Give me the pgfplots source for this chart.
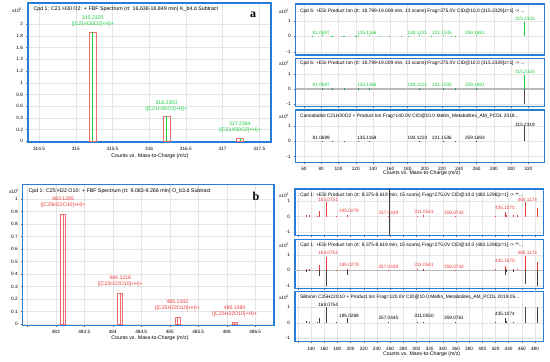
\documentclass[border=0pt]{standalone}
\usepackage{pgfplots}
\pgfplotsset{compat=1.18}
\usepackage{fontspec}
\setmainfont{Liberation Sans}
\newfontfamily\serifb{Liberation Serif}
\definecolor{fblue}{RGB}{40,125,215}
\definecolor{mgreen}{RGB}{25,205,60}
\definecolor{mred}{RGB}{235,60,60}
\definecolor{bred}{RGB}{240,110,110}
\newcommand\sm{\fontsize{4.7}{5.8}\selectfont}
\newcommand\smb{\fontsize{5.2}{6}\selectfont}
\newcommand\smt{\fontsize{5.3}{6}\selectfont}
\newcommand\smr{\fontsize{4.85}{6}\selectfont}
\pgfplotsset{ms/.style={scale only axis, anchor=north west, clip=false,
  axis line style={draw=fblue,line width=1.1pt},
  tick align=outside, tick pos=left, major tick length=1.5pt,
  tick style={black!60,line width=0.3pt},
  grid=major, grid style={black!10,line width=0.3pt},
  ticklabel style={font=\sm},
  /pgf/number format/assume math mode=true,
  yticklabel style={/pgf/number format/fixed},
  xticklabel style={/pgf/number format/fixed}},
  rt/.style={ms, width=248.6pt, xmin=50.4, xmax=338.5, ytick={-1,0,1},
  xtick={60,80,100,120,140,160,180,200,220,240,260,280,300,320}},
  br/.style={ms, width=248.3pt, xmin=115.7, xmax=492.6, ytick={-1,0,1},
  xtick={120,140,160,180,200,220,240,260,280,300,320,340,360,380,400,420,440,460,480}}}
\begin{document}
\begin{tikzpicture}
\path[use as bounding box] (0pt,0pt) rectangle (550pt,362pt);
% ---------------- panel a
\begin{axis}[ms, at={(28pt,359pt)}, width=243pt, height=139pt,
  xmin=314.35, xmax=317.66, ymin=-0.012, ymax=2.36,
  xtick={314.5,315,315.5,316,316.5,317,317.5},
  ytick={0,0.2,0.4,0.6,0.8,1,1.2,1.4,1.6,1.8,2}]
\addplot[ybar, bar width=0.095, bar shift=0pt, draw=bred, fill=none, line width=0.6pt] coordinates {(315.232,1.86) (316.2353,0.43) (317.2364,0.057)};
\addplot[ycomb, mgreen, line width=0.6pt] coordinates {(315.232,1.86) (316.2353,0.43) (317.2364,0.057)};
\node[font=\smb, text=mgreen, align=center] at (axis cs:315.232,2.05) {315.2320\\([C21H30O2]+H)+};
\node[font=\smb, text=mgreen, align=center] at (axis cs:316.2353,0.605) {316.2353\\([C21H30O2]+H)+};
\node[font=\smb, text=mgreen, align=center] at (axis cs:317.2364,0.24) {317.2364\\([C21H30O2]+H)+};
\end{axis}
% ---------------- panel b
\begin{axis}[ms, at={(22.7pt,177.3pt)}, width=251.3pt, height=140.6pt,
  xmin=482.42, xmax=486.83, ymin=-0.01, ymax=1.114,
  xtick={482.5,483,483.5,484,484.5,485,485.5,486,486.5},
  xticklabels={,483,483.5,484,484.5,485,485.5,486,486.5},
  ytick={0,0.1,0.2,0.3,0.4,0.5,0.6,0.7,0.8,0.9,1}]
\addplot[ybar, bar width=0.09, bar shift=0pt, draw=bred, fill=none, line width=0.6pt] coordinates {(483.1285,0.88) (484.1316,0.245) (485.1342,0.053) (486.138,0.01)};
\addplot[ycomb, bred, line width=0.5pt] coordinates {(483.1285,0.88) (484.1316,0.245) (485.1342,0.053) (486.138,0.01)};
\node[font=\smb, text=mred, align=center] at (axis cs:483.1285,0.975) {483.1285\\([C25H22O10]+H)+};
\node[font=\smb, text=mred, align=center] at (axis cs:484.1316,0.34) {484.1316\\([C25H22O10]+H)+};
\node[font=\smb, text=mred, align=center] at (axis cs:485.1342,0.148) {485.1342\\([C25H22O10]+H)+};
\node[font=\smb, text=mred, align=center] at (axis cs:486.138,0.103) {486.1380\\([C25H22O10]+H)+};
\end{axis}
% ---------------- top right 1
\begin{axis}[rt, at={(295.7pt,358pt)}, height=51pt, ymin=-1.21, ymax=2.08, xticklabels={}]
\addplot[ycomb, mgreen, line width=0.5pt] coordinates {(69.07,0.02) (81.07,0.06) (91.05,0.03) (93.07,0.04) (105.07,0.03) (107.09,0.04) (119.09,0.02) (121.1,0.03) (123.12,0.05) (135.12,0.06) (147.12,0.03) (159.12,0.02) (173.1,0.02) (181.1,0.03) (193.12,0.06) (207.14,0.02) (221.15,0.05) (231.14,0.03) (235.17,0.04) (259.17,0.05) (315.23,0.94)};
\node[font=\sm, text=mgreen] at (axis cs:80,0.24) {81.0697};
\node[font=\sm, text=mgreen] at (axis cs:133,0.24) {135.1166};
\node[font=\sm, text=mgreen] at (axis cs:191.5,0.24) {193.1221};
\node[font=\sm, text=mgreen] at (axis cs:220,0.24) {221.1535};
\node[font=\sm, text=mgreen] at (axis cs:258,0.24) {259.1691};
\node[font=\sm, text=mgreen] at (axis cs:316,1.1) {315.2325};
\end{axis}
% ---------------- top right 2
\begin{axis}[rt, at={(295.7pt,303.7pt)}, height=48.4pt, ymin=-1.16, ymax=2.03, xticklabels={}]
\addplot[gray!55, line width=1.6pt] coordinates {(50.4,0) (338.5,0)};
\addplot[ycomb, black!70, line width=0.5pt] coordinates {(81.07,-0.05) (93.07,-0.03) (107.09,-0.03) (123.12,-0.04) (135.12,-0.05) (193.12,-0.05) (221.15,-0.04) (235.17,-0.03) (259.17,-0.04) (315.23,-1.0)};
\addplot[ycomb, mgreen, line width=0.5pt] coordinates {(81.07,0.06) (93.07,0.04) (107.09,0.04) (123.12,0.05) (135.12,0.06) (193.12,0.06) (221.15,0.05) (235.17,0.04) (259.17,0.05) (315.23,0.96)};
\node[font=\sm, text=mgreen] at (axis cs:80,0.26) {81.0697};
\node[font=\sm, text=mgreen] at (axis cs:133,0.26) {135.1166};
\node[font=\sm, text=mgreen] at (axis cs:191.5,0.26) {193.1221};
\node[font=\sm, text=mgreen] at (axis cs:220,0.26) {221.1535};
\node[font=\sm, text=mgreen] at (axis cs:258,0.26) {259.1691};
\node[font=\sm, text=mgreen] at (axis cs:316,1.14) {315.2325};
\end{axis}
% ---------------- top right 3
\begin{axis}[rt, at={(295.7pt,252pt)}, height=52.3pt, ymin=-1.37, ymax=2.05]
\addplot[ycomb, black!75, line width=0.5pt] coordinates {(81.07,0.05) (93.07,0.03) (107.09,0.03) (123.12,0.04) (135.12,0.05) (193.12,0.05) (221.15,0.04) (235.17,0.03) (259.17,0.04) (315.23,1.0)};
\node[font=\sm] at (axis cs:80,0.24) {81.0699};
\node[font=\sm] at (axis cs:133,0.24) {135.1168};
\node[font=\sm] at (axis cs:191.5,0.24) {193.1223};
\node[font=\sm] at (axis cs:220,0.24) {221.1536};
\node[font=\sm] at (axis cs:258,0.24) {259.1693};
\node[font=\sm] at (axis cs:316,1.05) {315.2319};
\end{axis}
% ---------------- bottom right 1
\begin{axis}[br, at={(295pt,173pt)}, height=46.7pt, ymin=-1.22, ymax=1.76, xticklabels={}]
\addplot[black!75, line width=0.5pt] coordinates {(259,-1.22) (259,1.76)};
\addplot[ycomb, mred, line width=0.5pt] coordinates {(133.03,0.1) (137.02,0.08) (149.02,0.05) (153.02,0.35) (163.08,0.9) (179.03,0.04) (195.03,0.12) (257.04,0.03) (301.07,0.06) (311.05,0.07) (359.07,0.03) (419.1,0.06) (435.11,0.3) (437.1,0.12) (447.1,0.1) (453.1,0.08) (465.12,0.95) (483.13,0.55)};
\node[font=\sm, text=mred] at (axis cs:166,1.06) {163.0751};
\node[font=\sm, text=mred] at (axis cs:197.7,0.36) {195.0279};
\node[font=\sm, text=mred] at (axis cs:257.4,0.22) {257.0439};
\node[font=\sm, text=mred] at (axis cs:311.6,0.32) {311.0541};
\node[font=\sm, text=mred] at (axis cs:357,0.22) {359.0742};
\node[font=\sm, text=mred] at (axis cs:434.5,0.57) {435.1070};
\node[font=\sm, text=mred] at (axis cs:468.4,1.06) {465.1174};
\end{axis}
% ---------------- bottom right 2
\begin{axis}[br, at={(295pt,122.7pt)}, height=49pt, ymin=-1.17, ymax=2.03, xticklabels={}]
\addplot[gray!55, line width=1.6pt] coordinates {(115.7,0) (492.6,0)};
\addplot[ycomb, black!75, line width=0.5pt] coordinates {(133.03,-0.08) (137.02,-0.06) (153.02,-0.35) (163.08,-1.0) (179.03,-0.05) (195.03,-0.28) (257.04,-0.03) (311.05,-0.04) (435.11,-0.3) (437.1,-0.12) (447.1,-0.08) (465.12,-0.88) (483.13,-1.0)};
\addplot[ycomb, mred, line width=0.5pt] coordinates {(133.03,0.1) (137.02,0.08) (149.02,0.05) (153.02,0.35) (163.08,0.9) (179.03,0.04) (195.03,0.12) (257.04,0.03) (301.07,0.06) (311.05,0.07) (359.07,0.03) (419.1,0.06) (435.11,0.3) (437.1,0.12) (447.1,0.1) (453.1,0.08) (465.12,0.95) (483.13,0.55)};
\node[font=\sm, text=mred] at (axis cs:166,1.13) {163.0751};
\node[font=\sm, text=mred] at (axis cs:197.7,0.37) {195.0279};
\node[font=\sm, text=mred] at (axis cs:257.4,0.22) {257.0439};
\node[font=\sm, text=mred] at (axis cs:311.6,0.33) {311.0541};
\node[font=\sm, text=mred] at (axis cs:357,0.22) {359.0742};
\node[font=\sm, text=mred] at (axis cs:434.5,0.65) {435.1070};
\node[font=\sm, text=mred] at (axis cs:468.4,1.13) {465.1174};
\end{axis}
% ---------------- bottom right 3
\begin{axis}[br, at={(295pt,70.3pt)}, height=50pt, ymin=-1.22, ymax=2.0,
  xticklabels={,140,160,180,200,220,240,260,280,300,320,340,360,380,400,420,440,460,480}]
\addplot[ycomb, black!75, line width=0.5pt] coordinates {(133.03,0.1) (137.02,0.06) (149.02,0.04) (153.02,0.3) (163.08,1.0) (179.03,0.05) (195.03,0.3) (257.04,0.03) (301.07,0.04) (311.05,0.06) (359.07,0.03) (419.1,0.04) (435.11,0.3) (437.1,0.12) (447.1,0.08) (465.12,1.0) (483.13,1.0)};
\node[font=\sm] at (axis cs:166,1.13) {163.0754};
\node[font=\sm] at (axis cs:197.7,0.43) {195.0288};
\node[font=\sm] at (axis cs:257.4,0.32) {257.0445};
\node[font=\sm] at (axis cs:311.6,0.43) {311.0550};
\node[font=\sm] at (axis cs:357,0.3) {359.0761};
\node[font=\sm] at (axis cs:434.5,0.54) {435.1074};
\end{axis}
% ---------------- texts
\node[font=\smt, anchor=west] at (30pt,352.7pt) {Cpd 1: C21 H30 O2: + FBF Spectrum (rt: 16.638-16.849 min) K\_b4.d Subtract};
\node[font=\serifb\bfseries\fontsize{12}{12}\selectfont] at (253pt,347pt) {a};
\node[font=\sm] at (17pt,352pt) {x10\textsuperscript{5}};
\node[font=\smb] at (150pt,206.3pt) {Counts vs. Mass-to-Charge (m/z)};
\node[font=\smt, anchor=west] at (25pt,171pt) {Cpd 1: C25 H22 O10: + FBF Spectrum (rt: 9.083-9.266 min) O\_b3.d Subtract};
\node[font=\serifb\bfseries\fontsize{12}{12}\selectfont] at (256pt,166pt) {b};
\node[font=\sm] at (14pt,170.3pt) {x10\textsuperscript{5}};
\node[font=\smb] at (150pt,24.3pt) {Counts vs. Mass-to-Charge (m/z)};
\node[font=\sm] at (284pt,351pt) {x10\textsuperscript{2}};
\node[font=\sm] at (284pt,298.7pt) {x10\textsuperscript{2}};
\node[font=\sm] at (284pt,245.3pt) {x10\textsuperscript{2}};
\node[font=\smr, anchor=west] at (296.5pt,351pt) {Cpd 6: +ESI Product Ion (rt: 18.799-19.009 min, 13 scans) Frag=275.0V CID@10.0 (315.2329[z=1] -> ...};
\node[font=\smr, anchor=west] at (296.5pt,299pt) {Cpd 6: +ESI Product Ion (rt: 18.799-19.009 min, 13 scans) Frag=275.0V CID@10.0 (315.2329[z=1] -> ...};
\node[font=\smr, anchor=west] at (296.5pt,245.3pt) {Cannabidiol C21H30O2 + Product Ion Frag=140.0V CID@10.0 Metlin\_Metabolites\_AM\_PCDL 2019...};
\node[font=\smb] at (421.7pt,188.7pt) {Counts vs. Mass-to-Charge (m/z)};
\node[font=\sm] at (284pt,167pt) {x10\textsuperscript{2}};
\node[font=\sm] at (284pt,117pt) {x10\textsuperscript{2}};
\node[font=\sm] at (284pt,64.7pt) {x10\textsuperscript{2}};
\node[font=\smr, anchor=west] at (296.5pt,167pt) {Cpd 1: +ESI Product Ion (rt: 8.375-8.619 min, 15 scans) Frag=275.0V CID@10.0 (483.1296[z=1] -> **...};
\node[font=\smr, anchor=west] at (296.5pt,117pt) {Cpd 1: +ESI Product Ion (rt: 8.375-8.619 min, 15 scans) Frag=275.0V CID@10.0 (483.1296[z=1] -> **...};
\node[font=\smr, anchor=west] at (296.5pt,64.7pt) {Silibinin C25H22O10 + Product Ion Frag=120.0V CID@10.0 Metlin\_Metabolites\_AM\_PCDL 2019.05...};
\node[font=\smb] at (421.7pt,7.7pt) {Counts vs. Mass-to-Charge (m/z)};
\end{tikzpicture}
\end{document}
